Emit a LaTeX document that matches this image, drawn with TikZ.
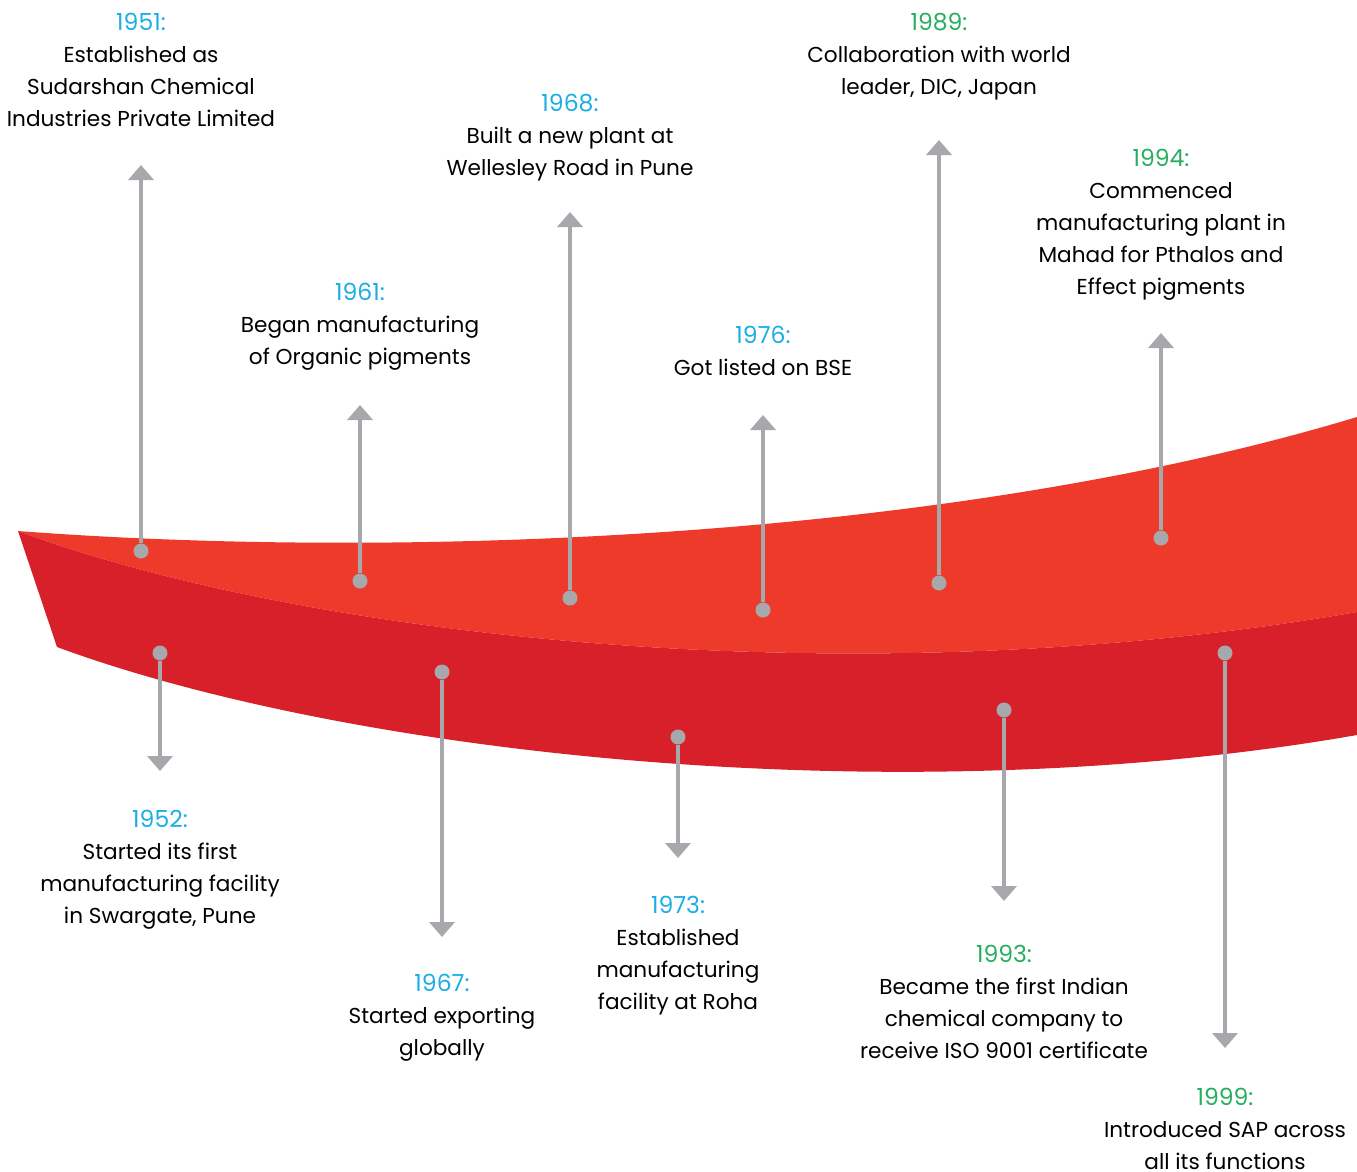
\documentclass[tikz,border=0pt]{standalone}
\usepackage{fontspec}
\setmainfont{Poppins}
\usetikzlibrary{arrows.meta}
\definecolor{ribbonlight}{HTML}{EE3A2B}
\definecolor{ribbondark}{HTML}{D7202A}
\definecolor{pingray}{HTML}{A6A8AB}
\definecolor{yearblue}{HTML}{1BAEE5}
\definecolor{yeargreen}{HTML}{27AE60}
\tikzset{
  stem/.style={draw=pingray, line width=4.5pt, -{Triangle[width=25pt,length=15pt]}},
  pin/.style={circle, fill=pingray, inner sep=0pt, minimum size=15pt},
  entry/.style={align=center, inner sep=0pt, anchor=north, font=\fontsize{21.6}{32}\selectfont},
}
\newcommand\yearfont{\fontsize{23.5}{32}\selectfont\addfontfeatures{Numbers=Monospaced}}
\begin{document}
\begin{tikzpicture}[x=1pt,y=-1pt]
\useasboundingbox (0,0) rectangle (1357,1171);
% ribbon
\fill[ribbonlight] (18,531) .. controls (400,560) and (950,540) .. (1357,417)
  -- (1357,612) .. controls (850,700) and (300,636) .. (18,531) -- cycle;
\fill[ribbondark] (18,531) .. controls (300,636) and (850,700) .. (1357,612)
  -- (1357,735) .. controls (900,815) and (350,755) .. (57,647) -- cycle;
% milestones
\foreach \yr/\x/\yd/\yt/\yl/\c/\txt in {
  1951/141/551/165/13/yearblue/{Established as\\Sudarshan Chemical\\Industries Private Limited},
  1961/360/581/405/283/yearblue/{Began manufacturing\\of Organic pigments},
  1968/570/598/212/94/yearblue/{Built a new plant at\\Wellesley Road in Pune},
  1976/763/610/415/326/yearblue/{Got listed on BSE},
  1989/939/583/140/13/yeargreen/{Collaboration with world\\leader, DIC, Japan},
  1994/1161/538/333/149/yeargreen/{Commenced\\manufacturing plant in\\Mahad for Pthalos and\\Effect pigments},
  1952/160/653/771/810/yearblue/{Started its first\\manufacturing facility\\in Swargate, Pune},
  1967/442/672/937/974/yearblue/{Started exporting\\globally},
  1973/678/737/858/896/yearblue/{Established\\manufacturing\\facility at Roha},
  1993/1004/710/901/945/yeargreen/{Became the first Indian\\chemical company to\\receive ISO 9001 certificate},
  1999/1225/653/1048/1088/yeargreen/{Introduced SAP across\\all its functions}} {
  \node[pin] (d\yr) at (\x,\yd) {};
  \coordinate (t\yr) at (\x,\yt);
  \draw[stem] (d\yr) -- (t\yr);
  \node[entry] (l\yr) at (\x,\yl) {{\yearfont\textcolor{\c}{\yr:}}\\\txt};
}
\end{tikzpicture}
\end{document}
